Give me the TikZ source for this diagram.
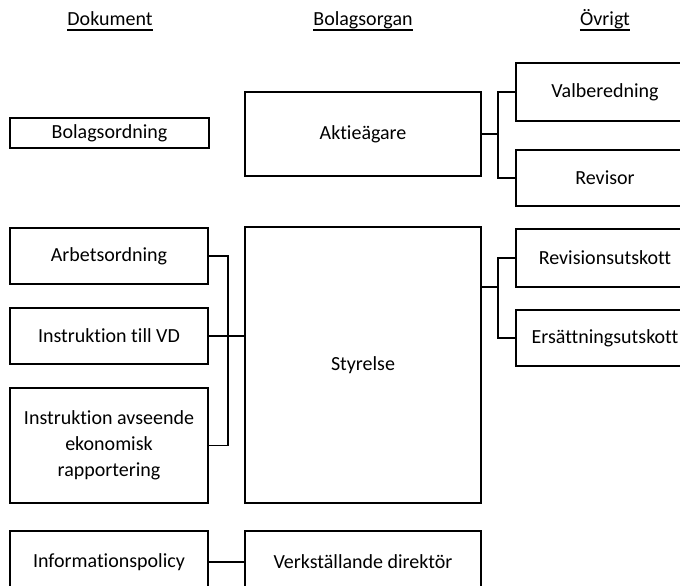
\documentclass[tikz,border=0pt]{standalone}
\usepackage{fontspec}
\setmainfont{Carlito}[Ligatures={NoCommon}]
\usepackage{tikz}
\usetikzlibrary{positioning}

\tikzset{
    box/.style={draw, line width=1pt, rectangle, inner sep=2pt, align=center,
        font=\fontsize{15pt}{19.5pt}\selectfont},
    head/.style={anchor=base, inner sep=0pt, font=\fontsize{15pt}{18pt}\selectfont},
    uline/.style={line width=1.5pt},
    conn/.style={line width=0.8pt}
}

\begin{document}
\begin{tikzpicture}[x=0.75pt, y=-0.75pt]

        \useasboundingbox (0,0) rectangle (680,585);
        \clip (0,0) rectangle (680,585);

        % Column heads
        \node[head] (hdok) at (110,26) {Dokument};
        \node[head] (horg) at (363,26) {Bolagsorgan};
        \node[head] (hovr) at (605,26) {Övrigt};
        \path[draw, uline] ([yshift=-3pt]hdok.base west) -- ([yshift=-3pt]hdok.base east);
        \path[draw, uline] ([yshift=-3pt]horg.base west) -- ([yshift=-3pt]horg.base east);
        \path[draw, uline] ([yshift=-3pt]hovr.base west) -- ([yshift=-3pt]hovr.base east);

        % Dokument
        \node[box, minimum width=149.25pt, minimum height=22.5pt] (bolag) at (109.5,133) {Bolagsordning};
        \node[box, minimum width=148.5pt, minimum height=42pt] (arbets) at (109,256) {Arbetsordning};
        \node[box, minimum width=148.5pt, minimum height=42pt] (instrvd) at (109,336) {Instruktion till VD};
        \node[box, minimum width=148.5pt, minimum height=86.25pt] (instrek) at (109,445.5) {Instruktion avseende\\ekonomisk\\rapportering};
        \node[box, minimum width=148.5pt, minimum height=46.5pt] (infopol) at (109,562) {Informationspolicy};

        % Bolagsorgan
        \node[box, minimum width=177pt, minimum height=63pt] (aktie) at (363,134) {Aktieägare};
        \node[box, minimum width=177pt, minimum height=207pt] (styrelse) at (363,365) {Styrelse};
        \node[box, minimum width=177pt, minimum height=46.5pt] (vd) at (363,562) {Verkställande direktör};

        % Övrigt
        \node[box, minimum width=133.5pt, minimum height=43.5pt] (valb) at (605,92) {Valberedning};
        \node[box, minimum width=133.5pt, minimum height=42pt] (revisor) at (605,178) {Revisor};
        \node[box, minimum width=133.5pt, minimum height=43.5pt] (revutsk) at (605,258) {Revisionsutskott};
        \node[box, minimum width=133.5pt, minimum height=42pt] (ersutsk) at (605,338) {Ersättningsutskott};

        \coordinate (jA) at (498,134);
        \coordinate (jD) at (228,336);
        \coordinate (jS) at (498,287);

        \path[draw, conn] (aktie.east) -- (jA);
        \path[draw, conn] (valb.west) -| (jA) |- (revisor.west);

        \path[draw, conn] (arbets.east) -| (jD) |- (instrek.east);
        \path[draw, conn] (instrvd.east) -- (instrvd.east -| styrelse.west);

        \path[draw, conn] (styrelse.east |- jS) -- (jS);
        \path[draw, conn] (revutsk.west) -| (jS) |- (ersutsk.west);

        \path[draw, conn] (infopol.east) -- (vd.west);

    \end{tikzpicture}
\end{document}
